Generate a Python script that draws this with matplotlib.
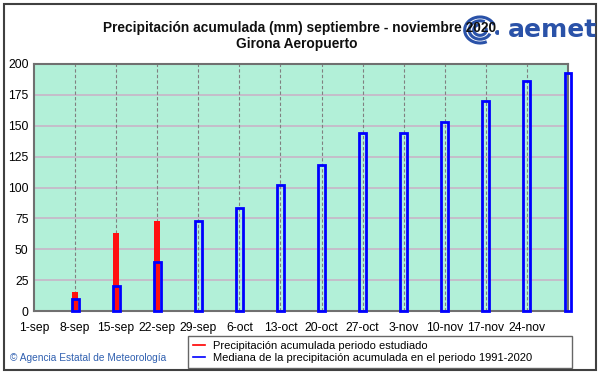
'''Precipitación acumulada semanal frente a la mediana 1991-2020 (Girona Aeropuerto)'''

import numpy as np
import matplotlib.pyplot as plt
from matplotlib.patches import Rectangle, Arc
from matplotlib.lines import Line2D

# Datos
etiquetas = ['1-sep', '8-sep', '15-sep', '22-sep', '29-sep', '6-oct', '13-oct',
             '20-oct', '27-oct', '3-nov', '10-nov', '17-nov', '24-nov']
acumulada = [15, 63, 73]  # periodo estudiado (8-sep .. 22-sep)
mediana = [10, 20, 40, 73, 83, 102, 118, 144, 144, 153, 170, 186, 193]
y_ticks = [0, 25, 50, 75, 100, 125, 150, 175, 200]

plt.rcParams['font.family'] = ['Liberation Sans', 'DejaVu Sans']

fig = plt.figure(figsize=(6.01, 3.74), dpi=100)
ax = fig.add_axes([34 / 601, 1 - 311 / 374, 534 / 601, 247 / 374])

ax.set_facecolor('#b2f0d8')
ax.set_xlim(0, len(mediana))
ax.set_ylim(0, 200)

# Rejilla
for y in y_ticks[1:-1]:
    ax.axhline(y, color='#c8b4c8', lw=1.2, zorder=1)
for x in range(1, len(mediana)):
    ax.axvline(x, color='#808080', lw=0.8, ls=(0, (3, 2)), zorder=1)

# Barras
x_acum = np.arange(1, len(acumulada) + 1)
x_med = np.arange(1, len(mediana) + 1)
ax.bar(x_acum, acumulada, width=0.14, color='#ff1010', zorder=2)
ax.bar(x_med, mediana, width=0.17, facecolor='none', edgecolor='#0000ff',
       lw=2, zorder=3, clip_on=False)

ax.set_xticks(range(len(etiquetas)))
ax.set_xticklabels(etiquetas, fontsize=8.7)
ax.set_yticks(y_ticks)
ax.set_yticklabels([str(v) for v in y_ticks], fontsize=8.7)
ax.tick_params(axis='x', length=0, pad=8)
ax.tick_params(axis='y', length=0, pad=4)
for s in ax.spines.values():
    s.set_color('#707070')
    s.set_linewidth(1.5)

# Títulos
fig.text(300 / 601, 1 - 28 / 374, 'Precipitación acumulada (mm) septiembre - noviembre 2020',
         ha='center', va='center', fontsize=9.9, fontweight='bold', color='#101010')
fig.text(297 / 601, 1 - 44 / 374, 'Girona Aeropuerto',
         ha='center', va='center', fontsize=9.9, fontweight='bold', color='#101010')

# Logotipo (aproximado)
logo = fig.add_axes([462 / 601, 1 - 48 / 374, 36 / 601, 36 / 374])
logo.set_xlim(-1, 1)
logo.set_ylim(-1, 1)
logo.axis('off')
for r, t1, t2 in [(0.85, 20, 300), (0.6, 60, 340), (0.35, 100, 20)]:
    logo.add_patch(Arc((0, 0), 2 * r, 1.7 * r, theta1=t1, theta2=t2,
                       color='#2a52a8', lw=2.2))
logo.plot([0.95], [-0.1], 'o', color='#2a52a8', ms=2.5)
fig.text(597 / 601, 1 - 30 / 374, 'aemet', ha='right', va='center', fontsize=18,
         fontweight='bold', color='#2a52a8', family='DejaVu Sans')

# Leyenda
handles = [Line2D([], [], color='#ff0000', lw=1.2),
           Line2D([], [], color='#0000ff', lw=1.2)]
leg = fig.legend(handles, ['Precipitación acumulada periodo estudiado',
                           'Mediana de la precipitación acumulada en el periodo 1991-2020'],
                 loc='lower left', bbox_to_anchor=(188 / 601, 1 - 368 / 374, 384 / 601, 33 / 374),
                 mode='expand', fontsize=8, frameon=True, fancybox=False, borderaxespad=0,
                 borderpad=0.45, labelspacing=0.15, handlelength=1.1, handletextpad=0.7)
leg.get_frame().set_edgecolor('#404040')
leg.get_frame().set_linewidth(1)

fig.text(10 / 601, 1 - 358 / 374, '© Agencia Estatal de Meteorología', ha='left',
         va='center', fontsize=7.3, color='#3060b0')

# Marco
fig.patches.append(Rectangle((4 / 601, 4 / 374), 592 / 601, 366 / 374, fill=False,
                             edgecolor='#404040', lw=1.5, transform=fig.transFigure))

fig.savefig('out.png', dpi=100)
